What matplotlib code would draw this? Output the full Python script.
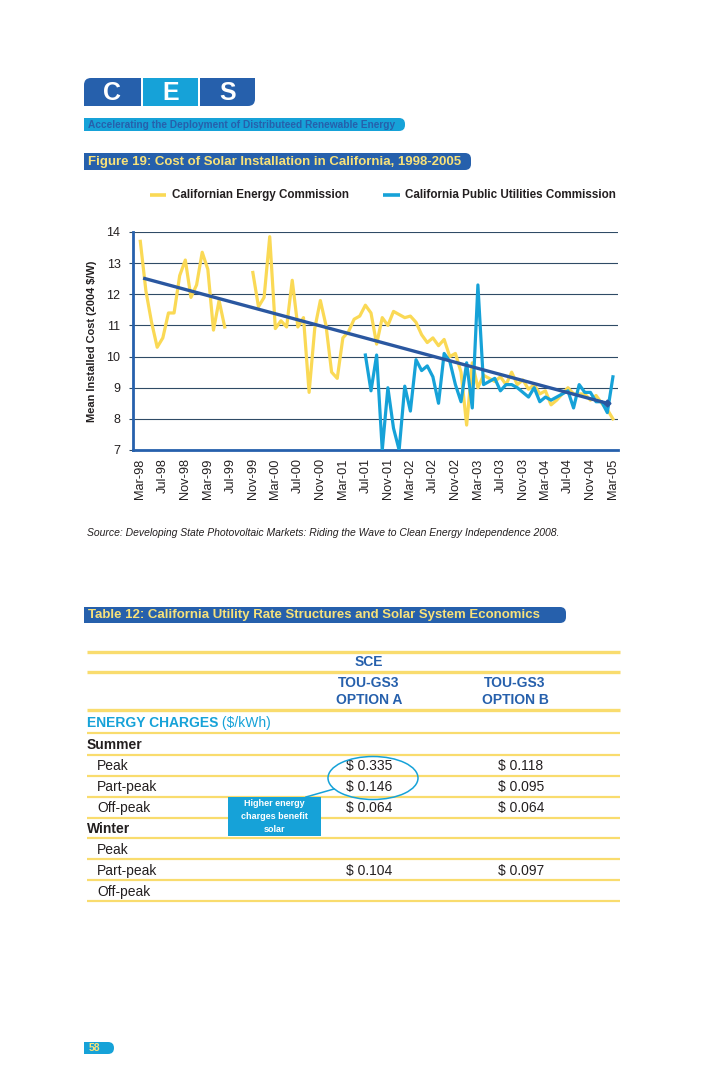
"""
Page 58 of the CES report: Figure 19 line chart plus Table 12.
"""

import numpy as np
import matplotlib.pyplot as plt
from matplotlib.patches import FancyBboxPatch, Rectangle, Ellipse

plt.rcParams['font.family'] = ['Liberation Sans', 'DejaVu Sans']

# ---- chart data (monthly, month 0 = Mar-98) ----
tick_labels = ["Mar-98", "Jul-98", "Nov-98", "Mar-99", "Jul-99", "Nov-99",
               "Mar-00", "Jul-00", "Nov-00", "Mar-01", "Jul-01", "Nov-01",
               "Mar-02", "Jul-02", "Nov-02", "Mar-03", "Jul-03", "Nov-03",
               "Mar-04", "Jul-04", "Nov-04", "Mar-05"]
tick_step = 4

cec_cost = [13.7, 12.1, 11.1, 10.3, 10.6, 11.4, 11.4, 12.6, 13.1, 11.9,
            12.3, 13.35, 12.8, 10.85, 11.8, 10.95, None, None, None, None,
            12.7, 11.6, 11.9, 13.85, 10.9, 11.15, 10.95, 12.45, 10.95, 11.25,
            8.85, 10.9, 11.8, 11.0, 9.5, 9.3, 10.6, 10.8, 11.2, 11.3,
            11.65, 11.4, 10.4, 11.25, 11.0, 11.45, 11.35, 11.25, 11.3, 11.1,
            10.7, 10.45, 10.6, 10.35, 10.55, 10.0, 10.1, 9.5, 7.8, 9.8,
            9.0, 9.4, 9.3, 9.2, 9.35, 9.1, 9.5, 9.1, 9.25, 8.95,
            9.1, 8.8, 8.9, 8.45, 8.6, 8.8, 9.0, 8.8, 8.8, 8.8,
            8.6, 8.75, 8.5, 8.3, 8.0]

cpuc_start = 40  # Jul-01
cpuc_cost = [10.05, 8.9, 10.05, 7.0, 9.0, 7.7, 7.0, 9.05, 8.25, 9.9,
             9.55, 9.7, 9.35, 8.5, 10.1, 9.85, 9.1, 8.55, 9.8, 8.35,
             12.3, 9.1, 9.2, 9.3, 8.9, 9.1, 9.1, 9.0, 8.85, 8.7,
             9.0, 8.55, 8.7, 8.6, 8.7, 8.8, 8.9, 8.35, 9.1, 8.85,
             8.85, 8.55, 8.55, 8.2, 9.35]

trend_months = [0.5, 83.0]
trend_cost = [12.52, 8.5]

y_ticks = [7, 8, 9, 10, 11, 12, 13, 14]

# ---- table data ----
row_labels = ["ENERGY CHARGES", "Summer", "Peak", "Part-peak", "Off-peak",
              "Winter", "Peak", "Part-peak", "Off-peak"]
option_a = ["", "", "$ 0.335", "$ 0.146", "$ 0.064", "", "", "$ 0.104", ""]
option_b = ["", "", "$ 0.118", "$ 0.095", "$ 0.064", "", "", "$ 0.097", ""]

YELLOW = "#FAD955"
LBLUE = "#16A2D8"
DBLUE = "#2660AC"
TREND = "#2A57A0"
GRID = "#2F4B66"
TXT = "#231F20"
TBL_LINE = "#F9DC6E"

W, H = 728, 1092
fig = plt.figure(figsize=(W / 100, H / 100), dpi=100)

# page layer in pixel coords
pg = fig.add_axes([0, 0, 1, 1])
pg.set_xlim(0, W)
pg.set_ylim(H, 0)
pg.axis('off')


def round_bar(x0, y0, x1, y1, color, r):
    pg.add_patch(FancyBboxPatch((x0, y0), x1 - x0, y1 - y0,
                                boxstyle=f"round,pad=0,rounding_size={r}",
                                fc=color, ec='none'))
    pg.add_patch(Rectangle((x0, y0), (x1 - x0) / 2, y1 - y0, fc=color, ec='none'))


# CES logo
for (x0, x1, col, letter) in [(84, 141, DBLUE, "C"), (143, 198, LBLUE, "E"),
                              (200, 255, DBLUE, "S")]:
    pg.add_patch(FancyBboxPatch((x0, 78), x1 - x0, 28,
                                boxstyle="round,pad=0,rounding_size=7",
                                fc=col, ec='none'))
    if letter != "C":
        pg.add_patch(Rectangle((x0, 78), 12, 28, fc=col, ec='none'))
    if letter != "S":
        pg.add_patch(Rectangle((x1 - 12, 78), 12, 28, fc=col, ec='none'))
    if letter == "C":
        pg.add_patch(Rectangle((x0, 92), 12, 14, fc=col, ec='none'))
    else:
        pg.add_patch(Rectangle((x1 - 12, 78), 12, 14, fc=col, ec='none'))
    pg.text((x0 + x1) / 2, 93, letter, color='white', fontsize=18,
            fontweight='bold', ha='center', va='center')

round_bar(84, 118, 405, 131, LBLUE, 6)
pg.text(88, 125, "Accelerating the Deployment of Distributeed Renewable Energy",
        color=DBLUE, fontsize=7.3, fontweight='bold', va='center')

round_bar(84, 153, 471, 170, DBLUE, 6)
pg.text(88, 162, "Figure 19: Cost of Solar Installation in California, 1998-2005",
        color="#F8E27A", fontsize=9.5, fontweight='bold', va='center')

# legend
pg.plot([150, 166], [195, 195], color=YELLOW, lw=2.6, solid_capstyle='butt')
pg.text(172, 195, "Californian Energy Commission", color=TXT, fontsize=8.4,
        fontweight='bold', va='center')
pg.plot([383, 400], [195, 195], color=LBLUE, lw=2.6, solid_capstyle='butt')
pg.text(405, 195, "California Public Utilities Commission", color=TXT,
        fontsize=8.4, fontweight='bold', va='center')

pg.text(87, 533, "Source: Developing State Photovoltaic Markets: Riding the Wave "
        "to Clean Energy Independence 2008.", color=TXT, fontsize=7.5,
        style='italic', va='center')

# ---- chart ----
ax = fig.add_axes([133 / W, 1 - 450 / H, (618 - 133) / W, (450 - 232) / H])
ax.set_facecolor('none')
cec = np.array([np.nan if v is None else v for v in cec_cost])
ax.plot(np.arange(len(cec)), cec, color=YELLOW, lw=2.3, zorder=3)
ax.plot(np.arange(cpuc_start, cpuc_start + len(cpuc_cost)), cpuc_cost,
        color=LBLUE, lw=2.3, zorder=4)
ax.plot(trend_months, trend_cost, color=TREND, lw=2.4, zorder=5,
        solid_capstyle='butt')
ax.plot(trend_months[-1:], trend_cost[-1:], marker='D', ms=3.5, color=TREND,
        zorder=5)

ax.set_xlim(-1.3, 84.9)
ax.set_ylim(7, 14)
ax.set_yticks(y_ticks)
ax.set_yticklabels([str(t) for t in y_ticks], fontsize=9, color=TXT)
ax.set_xticks(np.arange(len(tick_labels)) * tick_step)
ax.set_xticklabels(tick_labels, rotation=90, fontsize=9.2, color=TXT)
ax.tick_params(axis='x', length=0, pad=6)
ax.tick_params(axis='y', length=3, color=GRID, width=0.8, pad=6)
for t in y_ticks[1:]:
    ax.axhline(t, color=GRID, lw=0.8, zorder=1)
for side in ['top', 'right']:
    ax.spines[side].set_visible(False)
ax.spines['left'].set_color(DBLUE)
ax.spines['left'].set_linewidth(2)
ax.spines['bottom'].set_color(DBLUE)
ax.spines['bottom'].set_linewidth(2)
ax.set_ylabel("Mean Installed Cost (2004 $/W)", fontsize=7.9,
              fontweight='bold', color=TXT, labelpad=7)

# ---- table 12 ----
round_bar(84, 607, 566, 623, DBLUE, 6)
pg.text(88, 615, "Table 12: California Utility Rate Structures and Solar System Economics",
        color="#F8E27A", fontsize=9.5, fontweight='bold', va='center')

for y, lw in [(652, 2.4), (672, 2.4), (710, 2.4)]:
    pg.plot([87, 620], [y, y], color=TBL_LINE, lw=lw, solid_capstyle='butt')
for y in [733, 755, 776, 797, 818, 838, 859, 880, 901]:
    pg.plot([87, 620], [y, y], color=TBL_LINE, lw=1.6, solid_capstyle='butt')

pg.text(369, 662, "SCE", color=DBLUE, fontsize=10, fontweight='bold',
        ha='center', va='center')
for cx, opt in [(369, "OPTION A"), (515, "OPTION B")]:
    pg.text(cx, 683, "TOU-GS3", color=DBLUE, fontsize=10, fontweight='bold',
            ha='center', va='center')
    pg.text(cx, 700, opt, color=DBLUE, fontsize=10, fontweight='bold',
            ha='center', va='center')

row_y = [723, 745, 766, 787, 808, 829, 850, 871, 892]
for i, (lab, a, b) in enumerate(zip(row_labels, option_a, option_b)):
    y = row_y[i]
    if lab == "ENERGY CHARGES":
        t = pg.text(87, y, lab, color=LBLUE, fontsize=10, fontweight='bold',
                    va='center')
        pg.annotate(" ($/kWh)", xycoords=t, xy=(1, 0.5), va='center',
                    color=LBLUE, fontsize=10)
    elif lab in ("Summer", "Winter"):
        pg.text(87, y, lab, color=TXT, fontsize=10, fontweight='bold', va='center')
    else:
        pg.text(97, y, lab, color=TXT, fontsize=10, va='center')
    if a:
        pg.text(346, y, a, color=TXT, fontsize=10, va='center')
    if b:
        pg.text(498, y, b, color=TXT, fontsize=10, va='center')

# callout
pg.add_patch(Ellipse((373, 778), 90, 43, fc='none', ec=LBLUE, lw=1.1, zorder=6))
pg.plot([306, 334], [797, 789], color=LBLUE, lw=1.1, zorder=6)
pg.add_patch(Rectangle((228, 797), 93, 39, fc=LBLUE, ec='none', zorder=7))
pg.text(274.5, 816.5, "Higher energy\ncharges benefit\nsolar", color='white',
        fontsize=6.5, fontweight='bold', ha='center', va='center',
        linespacing=1.5, zorder=8)

# page number
round_bar(84, 1042, 114, 1054, LBLUE, 6)
pg.text(89, 1048, "58", color="#F8E27A", fontsize=7.5, fontweight='bold',
        va='center')

fig.savefig("out.png", dpi=100)
